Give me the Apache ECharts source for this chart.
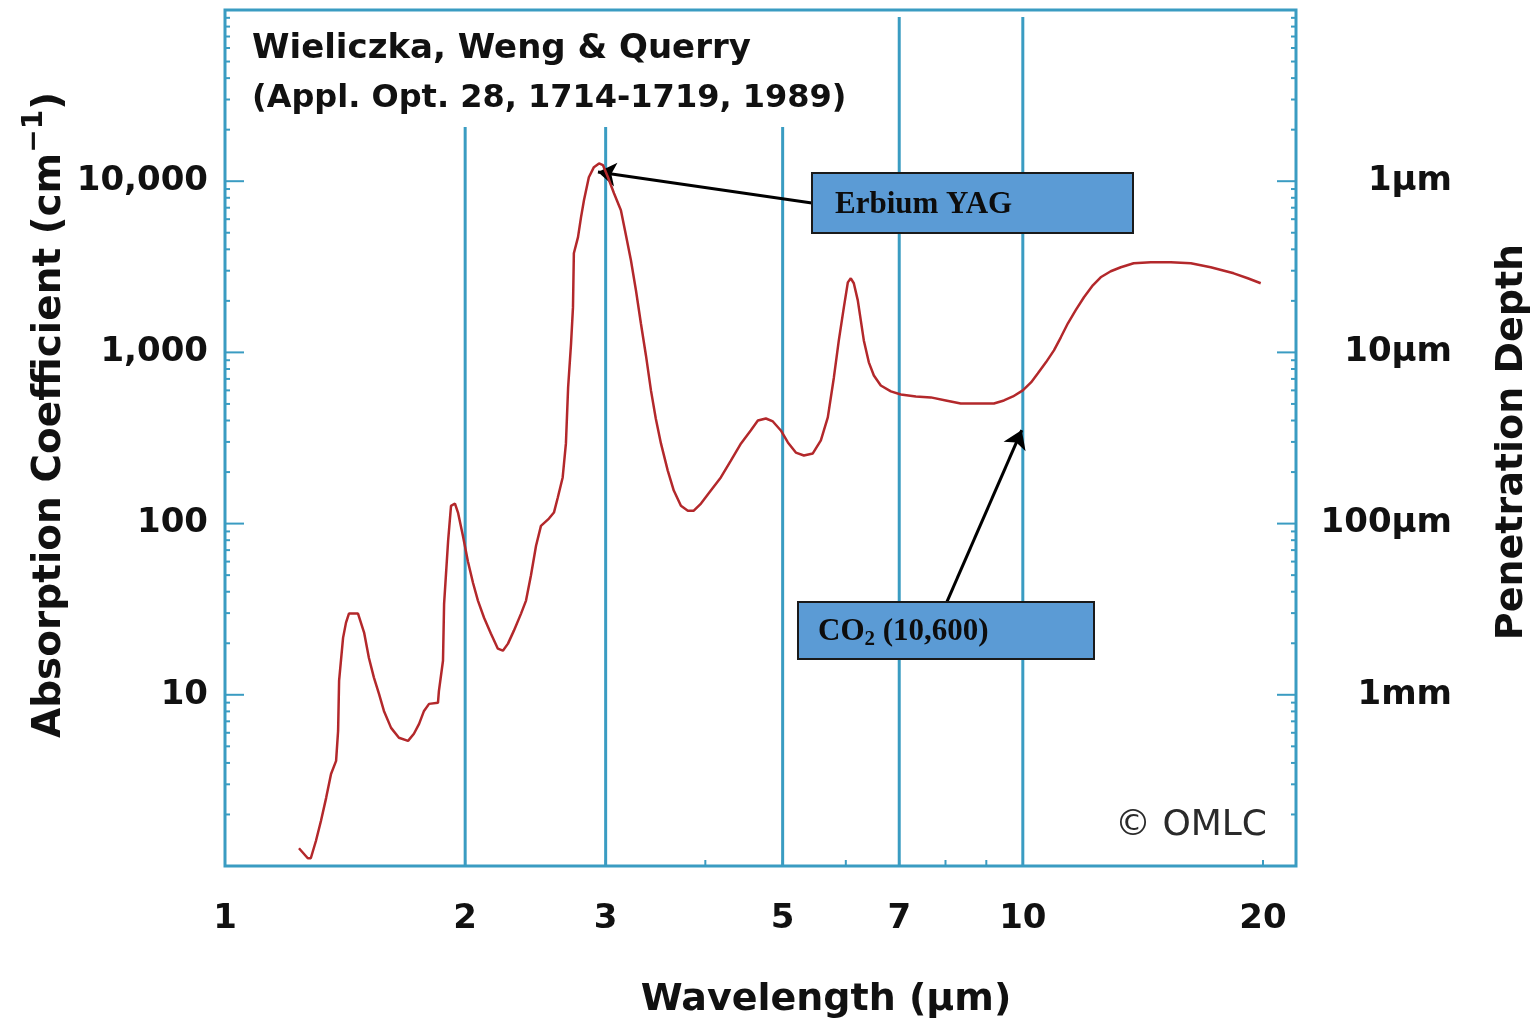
<!DOCTYPE html>
<html><head><meta charset="utf-8">
<script src="https://cdn.jsdelivr.net/npm/echarts@6/dist/echarts.min.js"></script>
<style>html,body{margin:0;padding:0;background:#fff}#chart{width:1537px;height:1024px}</style>
</head><body><div id="chart"></div>
<script>
// Wavelength (µm)
const wavelength = [
1.238,1.27,1.281,1.3,1.319,1.339,1.358,1.378,1.386,1.39,
1.406,1.418,1.43,1.468,1.494,1.515,1.537,1.56,1.582,1.615,
1.652,1.696,1.725,1.751,1.776,1.802,1.849,1.854,1.876,1.882,
1.904,1.92,1.942,1.959,1.987,2.016,2.046,2.075,2.112,2.154,
2.198,2.23,2.263,2.302,2.35,2.384,2.418,2.454,2.489,2.547,
2.584,2.613,2.65,2.675,2.692,2.715,2.73,2.737,2.77,2.794,
2.818,2.858,2.9,2.943,2.977,3.02,3.073,3.135,3.181,3.227,
3.274,3.321,3.37,3.419,3.467,3.519,3.589,3.652,3.728,3.803,
3.869,3.95,4.064,4.183,4.306,4.434,4.56,4.655,4.764,4.861,
4.974,5.076,5.194,5.316,5.455,5.583,5.696,5.797,5.88,5.966,
6.035,6.087,6.14,6.211,6.32,6.412,6.506,6.637,6.833,7.033,
7.344,7.668,8.007,8.36,8.73,9.2,9.47,9.72,10,10.24,
10.44,10.69,10.94,11.16,11.39,11.65,11.93,12.24,12.52,12.89,
13.27,13.77,14.47,15.33,16.24,17.2,18.38,19.14,19.87];
// Absorption coefficient (cm^-1)
const absorption = [
1.27,1.11,1.11,1.40,1.83,2.50,3.45,4.11,6.15,12.1,
21.5,26.4,29.8,29.8,23.1,16.4,12.6,10.1,8.05,6.41,
5.61,5.38,5.92,6.76,8.05,8.85,8.98,10.5,15.8,34.0,
79.4,127,131,116,85,60,45,35.5,28.2,22.8,
18.6,18.1,19.9,23.7,29.8,35.5,49.7,74.3,97,107,
116,142,186,294,624,1130,1832,3793,4710,6150,
7740,10550,12080,12700,12400,10550,8510,6770,4830,3450,
2306,1479,960,600,411,294,204,156,127,119,
119,131,156,186,233,294,350,400,411,395,
350,298,260,250,257,306,417,714,1175,1832,
2565,2710,2535,2014,1175,875,733,641,592,568,
553,546,524,503,503,503,524,553,600,668,
754,875,1028,1225,1479,1764,2100,2466,2747,2978,
3143,3315,3360,3360,3315,3143,2897,2710,2535];

const xLabelValues = [1, 2, 3, 5, 7, 10, 20];
const xMinorTickValues = [2, 3, 4, 5, 6, 7, 8, 9, 20];
const yLabelValues = [10, 100, 1000, 10000];
const yLabels = ['10', '100', '1,000', '10,000'];
const depthLabels = ['1mm', '100µm', '10µm', '1µm'];
const yMajorTickValues = [10, 100, 1000, 10000];
const yDecades = [1, 10, 100, 1000, 10000];
const yMinorMultipliers = [2, 3, 4, 5, 6, 7, 8, 9];
const guideX = [2, 3, 5, 7, 10];
const guideTop = [20700, 20700, 20700, 91000, 91000];
const arrowFrom = [[5.44, 7460], [8.03, 34.8]];
const arrowTo = [[2.934, 11320], [9.97, 352]];

const axisColor = '#3a9cc2';
const labelFont = 'DejaVu Sans';

const seriesData = wavelength.map((w, i) => [w, absorption[i]]);
const yMinorTickValues = [];
yDecades.forEach(d => yMinorMultipliers.forEach(m => yMinorTickValues.push(d * m)));
const yTickData = yMajorTickValues.map(v => [1, v, 1]).concat(yMinorTickValues.map(v => [1, v, 0]));
const xTickData = xMinorTickValues.map(v => [v, 1]);
const guideData = guideX.map((x, i) => [x, guideTop[i]]);

const chart = echarts.init(document.getElementById('chart'));
chart.setOption({
  animation: false,
  backgroundColor: '#fff',
  grid: { left: 225, right: 241, top: 10, bottom: 158, show: true, borderColor: axisColor, borderWidth: 3, backgroundColor: 'transparent' },
  xAxis: {
    type: 'log', logBase: 10, min: 1, max: 22,
    axisLine: { show: false }, axisTick: { show: false }, splitLine: { show: false }, minorTick: { show: false },
    axisLabel: {
      customValues: xLabelValues,
      margin: 36, fontSize: 34, fontWeight: 'bold', fontFamily: labelFont, color: '#111',
      formatter: v => String(Math.round(v))
    }
  },
  yAxis: [{
    type: 'log', logBase: 10, min: 1, max: 100000, position: 'left',
    axisLine: { show: false }, axisTick: { show: false }, splitLine: { show: false },
    axisLabel: {
      margin: 17, fontSize: 34, fontWeight: 'bold', fontFamily: labelFont, color: '#111', padding: [12, 0, 0, 0],
      formatter: v => { const i = yLabelValues.findIndex(t => Math.abs(t - v) / t < 1e-6); return i >= 0 ? yLabels[i] : ''; }
    }
  }, {
    type: 'log', logBase: 10, min: 1, max: 100000, position: 'right',
    axisLine: { show: false }, axisTick: { show: false }, splitLine: { show: false },
    axisLabel: {
      margin: 156, align: 'right', fontSize: 34, fontWeight: 'bold', fontFamily: labelFont, color: '#111', padding: [18, 0, 0, 0],
      formatter: v => { const i = yLabelValues.findIndex(t => Math.abs(t - v) / t < 1e-6); return i >= 0 ? depthLabels[i] : ''; }
    }
  }],
  series: [{
    type: 'custom', name: 'guides', silent: true, z: 1,
    data: guideData, encode: { x: 0, y: 1 },
    renderItem: (params, api) => {
      const top = api.coord([api.value(0), api.value(1)]);
      const bottom = api.coord([api.value(0), 1]);
      return { type: 'line', shape: { x1: top[0], y1: top[1], x2: bottom[0], y2: bottom[1] }, style: { stroke: axisColor, lineWidth: 3 } };
    }
  }, {
    type: 'custom', name: 'yticks', silent: true, z: 3,
    data: yTickData, encode: { x: 0, y: 1 },
    renderItem: (params, api) => {
      const p = api.coord([1, api.value(1)]);
      const cs = params.coordSys;
      const len = api.value(2) ? 19 : 5;
      return { type: 'group', children: [
        { type: 'line', shape: { x1: cs.x, y1: p[1], x2: cs.x + len, y2: p[1] }, style: { stroke: axisColor, lineWidth: 2 } },
        { type: 'line', shape: { x1: cs.x + cs.width - len, y1: p[1], x2: cs.x + cs.width, y2: p[1] }, style: { stroke: axisColor, lineWidth: 2 } }
      ] };
    }
  }, {
    type: 'custom', name: 'xticks', silent: true, z: 3,
    data: xTickData, encode: { x: 0, y: 1 },
    renderItem: (params, api) => {
      const p = api.coord([api.value(0), 1]);
      return { type: 'line', shape: { x1: p[0], y1: p[1], x2: p[0], y2: p[1] - 6 }, style: { stroke: axisColor, lineWidth: 2 } };
    }
  }, {
    type: 'line', name: 'Absorption', data: seriesData, showSymbol: false, z: 5,
    lineStyle: { color: '#b3282b', width: 2.5 },
    markLine: {
      silent: true, symbol: ['none', 'arrow'], symbolSize: 18,
      lineStyle: { color: '#000', width: 3, type: 'solid' },
      label: { show: false },
      data: arrowFrom.map((f, i) => [{ coord: f }, { coord: arrowTo[i] }])
    }
  }],
  graphic: [
    { type: 'text', x: 252, y: 49, z: 10, style: { text: 'Wieliczka, Weng & Querry', verticalAlign: 'middle', font: 'bold 34px DejaVu Sans', fill: '#111' } },
    { type: 'text', x: 252, y: 99, z: 10, style: { text: '(Appl. Opt. 28, 1714-1719, 1989)', verticalAlign: 'middle', font: 'bold 32px DejaVu Sans', fill: '#111' } },
    { type: 'text', x: 50, y: 415, rotation: Math.PI / 2, z: 10, style: {
      text: '{a|Absorption Coefficient (cm}{s|−1}{a|)}', align: 'center', verticalAlign: 'middle',
      rich: { a: { fontSize: 39, fontWeight: 'bold', fontFamily: labelFont, fill: '#111' },
              s: { fontSize: 28, fontWeight: 'bold', fontFamily: labelFont, fill: '#111', padding: [0, 0, 30, 0] } } } },
    { type: 'text', x: 1512, y: 442, rotation: Math.PI / 2, z: 10, style: { text: 'Penetration Depth', align: 'center', verticalAlign: 'middle', font: 'bold 38px DejaVu Sans', fill: '#111' } },
    { type: 'text', x: 826, y: 1000, z: 10, style: { text: 'Wavelength (µm)', align: 'center', verticalAlign: 'middle', font: 'bold 38px DejaVu Sans', fill: '#111' } },
    { type: 'text', x: 1267, y: 826, z: 10, style: { text: '© OMLC', align: 'right', verticalAlign: 'middle', font: '36px DejaVu Sans', fill: '#2a2a2a' } },
    { type: 'rect', z: 10, shape: { x: 812, y: 173, width: 321, height: 60 }, style: { fill: '#5b9bd5', stroke: '#1a1a1a', lineWidth: 2 } },
    { type: 'text', x: 835, y: 205, z: 11, style: { text: 'Erbium YAG', verticalAlign: 'middle', font: 'bold 31px "Liberation Serif"', fill: '#0d0d0d' } },
    { type: 'rect', z: 10, shape: { x: 798, y: 602, width: 296, height: 57 }, style: { fill: '#5b9bd5', stroke: '#1a1a1a', lineWidth: 2 } },
    { type: 'text', x: 818, y: 632, z: 11, style: {
      text: '{a|CO}{s|2}{a| (10,600)}', verticalAlign: 'middle',
      rich: { a: { fontSize: 31, fontWeight: 'bold', fontFamily: 'Liberation Serif', fill: '#0d0d0d' },
              s: { fontSize: 21, fontWeight: 'bold', fontFamily: 'Liberation Serif', fill: '#0d0d0d', padding: [16, 0, 0, 0] } } } }
  ]
});
</script></body></html>
